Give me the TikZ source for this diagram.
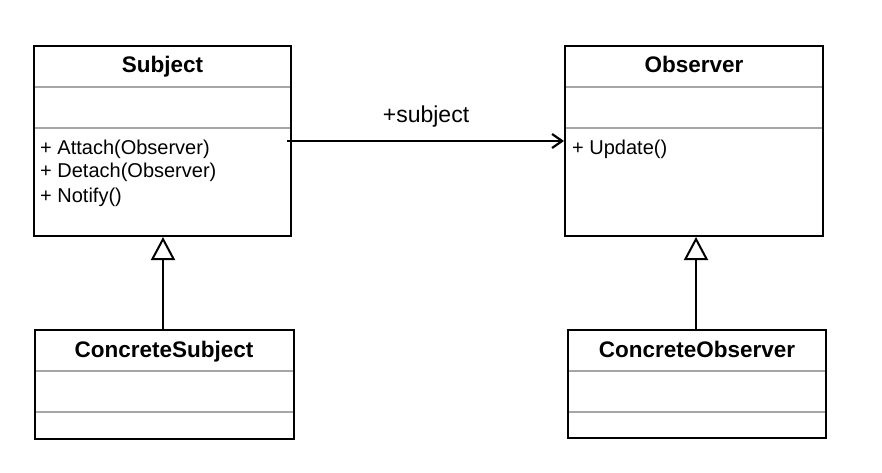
\documentclass[tikz,border=0pt]{standalone}
\usepackage{fontspec}
\setmainfont{Liberation Sans}
\usetikzlibrary{arrows.meta}
\begin{document}
\begin{tikzpicture}[x=1pt,y=-1pt,
  box/.style={draw=black,line width=2pt},
  sep/.style={draw=black!35,line width=1.2pt},
  title/.style={font=\fontsize{22.5}{26}\selectfont\bfseries,anchor=base,inner sep=0pt},
  meth/.style={font=\fontsize{20}{23}\selectfont,anchor=base west,inner sep=0pt},
  gen/.style={line width=2pt,-{Triangle[open,width=24pt,length=23pt,line width=2pt]}},
  assoc/.style={line width=2.2pt,-{Straight Barb[length=10pt,width=14pt,line width=2.2pt]}}]
\useasboundingbox (0,0) rectangle (882,473);
% Subject
\draw[box] (34,46) rectangle (291,236);
\draw[sep] (35,87) -- (290,87);
\draw[sep] (35,128) -- (290,128);
\node[title] (subj) at (162.5,73) {Subject};
\node[meth] (m1) at (40,155) {+ Attach(Observer)};
\node[meth] (m2) at (40,178) {+ Detach(Observer)};
\node[meth] (m3) at (40,202) {+ Notify()};
% Observer
\draw[box] (565,46) rectangle (823,236);
\draw[sep] (566,87) -- (822,87);
\draw[sep] (566,128) -- (822,128);
\node[title] (obs) at (694,73) {Observer};
\node[meth] (u1) at (572,155) {+ Update()};
% ConcreteSubject
\draw[box] (35,330) rectangle (294,439);
\draw[sep] (36,371) -- (293,371);
\draw[sep] (36,412) -- (293,412);
\node[title] (cs) at (164,357) {ConcreteSubject};
% ConcreteObserver
\draw[box] (568,330) rectangle (826,438);
\draw[sep] (569,371) -- (825,371);
\draw[sep] (569,412) -- (825,412);
\node[title] (co) at (697,357) {ConcreteObserver};
% connectors
\coordinate (csTop) at (163,330);
\coordinate (sBot) at (163,237);
\coordinate (coTop) at (696,330);
\coordinate (oBot) at (696,237);
\draw[gen] (csTop) -- (sBot);
\draw[gen] (coTop) -- (oBot);
\coordinate (aStart) at (287,141);
\coordinate (aEnd) at (564,141);
\draw[assoc] (aStart) -- (aEnd);
\node[font=\fontsize{23}{26}\selectfont,anchor=base,inner sep=0pt] (lab) at (426,123) {+subject};
\end{tikzpicture}
\end{document}
